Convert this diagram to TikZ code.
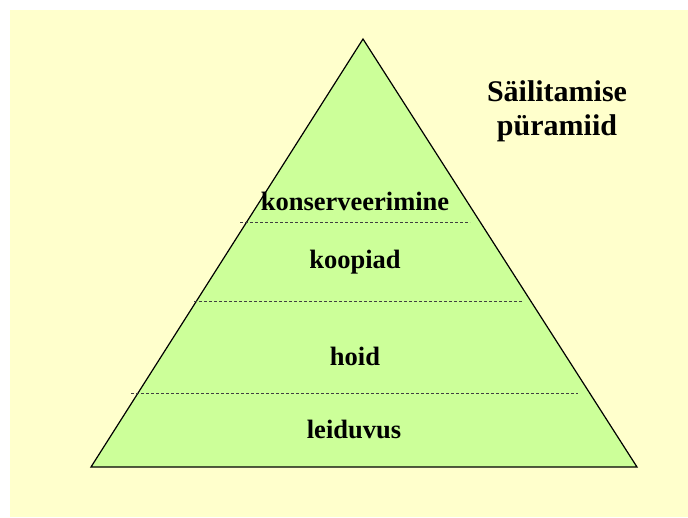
\documentclass[tikz,border=0pt]{standalone}
\usepackage{fontspec}
\setmainfont{Liberation Serif}[BoldFont={Liberation Serif Bold}]
\newfontfamily\serifgras{Liberation Serif Bold}
\definecolor{fondjaune}{HTML}{FFFFCC}
\definecolor{vertpyr}{HTML}{CCFF99}
\begin{document}
\begin{tikzpicture}[x=1pt, y=-1pt,
	etage/.style={anchor=base, inner sep=0pt, font=\serifgras\fontsize{26.5}{30}\selectfont},
	titre/.style={anchor=base, inner sep=0pt, font=\serifgras\fontsize{30}{34}\selectfont},
	separation/.style={gray!50!black, line width=0.7pt, dash pattern=on 3pt off 2pt}]
	% Fond
	\useasboundingbox (0,0) rectangle (688,517);
	\fill[white] (0,0) rectangle (688,517);
	\fill[fondjaune] (10,10) rectangle (688,517);
	
	% Pyramide
	\coordinate (sommet) at (363,39);
	\coordinate (basG) at (91,467);
	\coordinate (basD) at (637,467);
	\filldraw[fill=vertpyr, draw=black, line width=1.2pt, line join=miter] (sommet) -- (basD) -- (basG) -- cycle;
	
	% Separations
	\draw[separation] (240,222) -- (470,222);
	\draw[separation] (194,301.5) -- (522,301.5);
	\draw[separation] (131,393.5) -- (578,393.5);
	
	% Etages
	\node[etage] (konserv) at (355,210.5) {konserveerimine};
	\node[etage] (koopiad) at (355,268.5) {koopiad};
	\node[etage] (hoid) at (355,365) {hoid};
	\node[etage] (leiduvus) at (354,438.5) {leiduvus};
	
	% Titre
	\node[titre] (titre1) at (557,101.5) {Säilitamise};
	\node[titre] (titre2) at (557,135.5) {püramiid};
\end{tikzpicture}
\end{document}
